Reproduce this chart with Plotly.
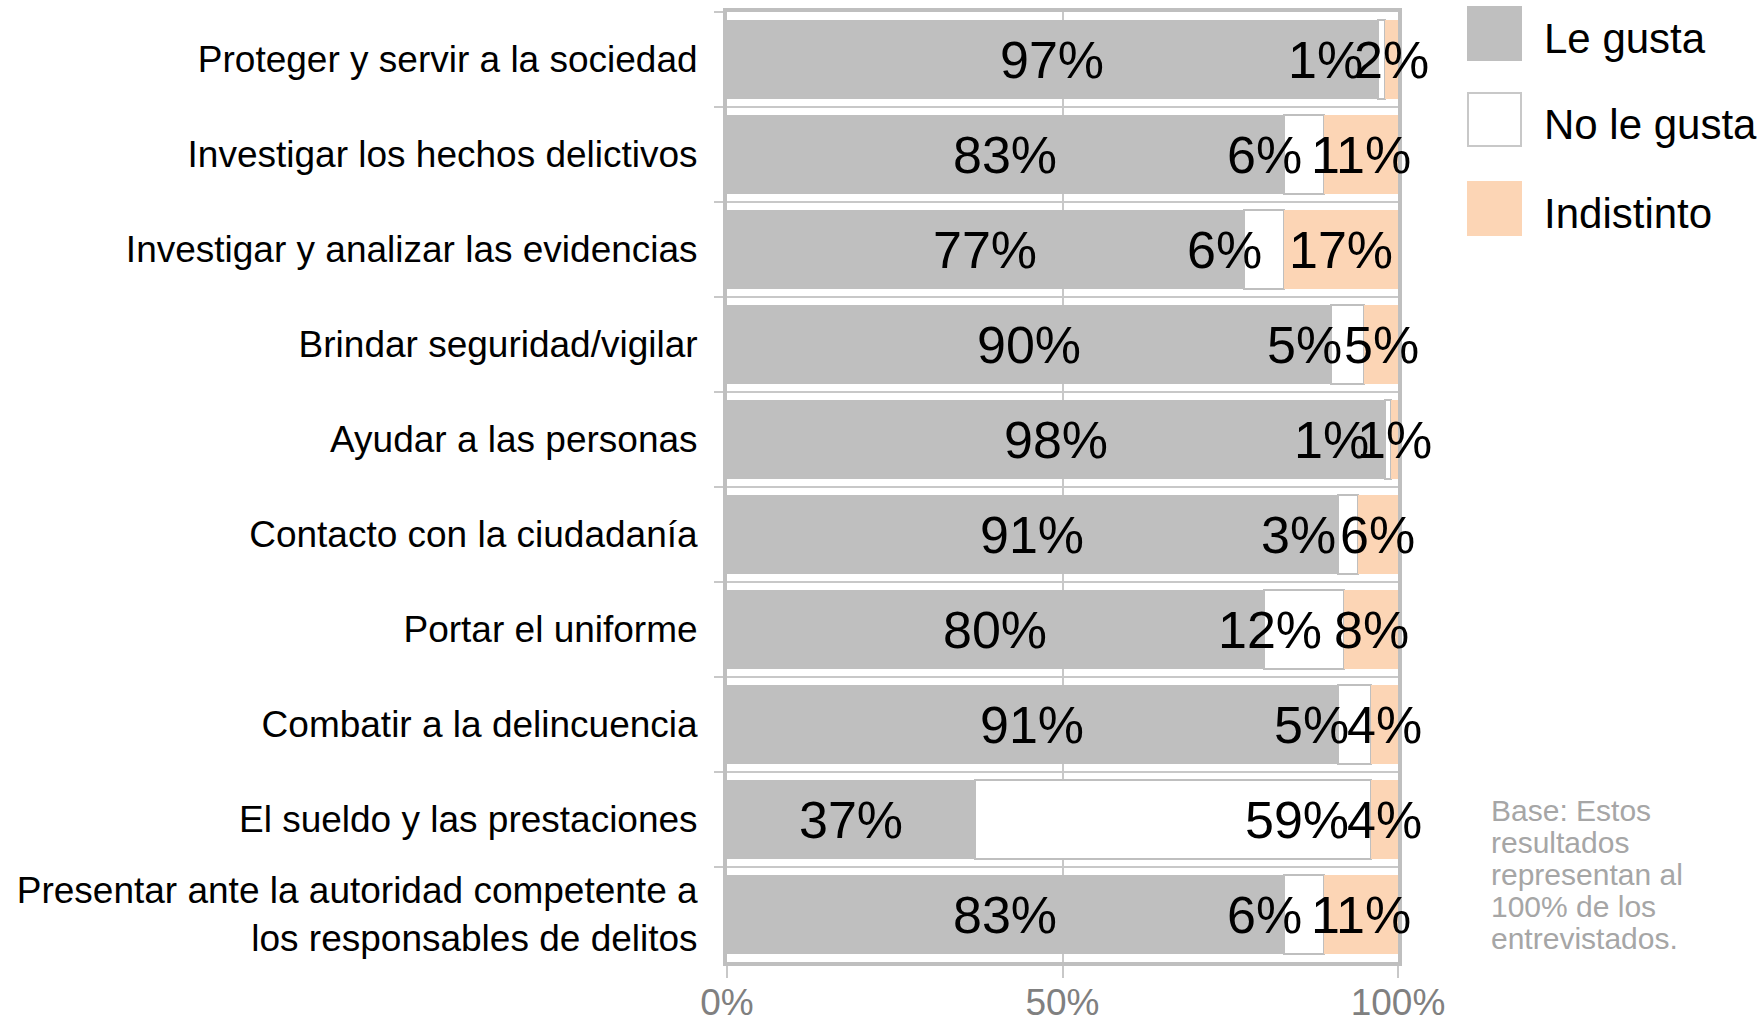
import plotly.graph_objects as go

# Survey: what respondents like about police work (share of responses, %)
categories = [
    "Proteger y servir a la sociedad",
    "Investigar los hechos delictivos",
    "Investigar y analizar las evidencias",
    "Brindar seguridad/vigilar",
    "Ayudar a las personas",
    "Contacto con la ciudadanía",
    "Portar el uniforme",
    "Combatir a la delincuencia",
    "El sueldo y las prestaciones",
    "Presentar ante la autoridad competente a<br>los responsables de delitos",
]
le_gusta = [97, 83, 77, 90, 98, 91, 80, 91, 37, 83]
no_le_gusta = [1, 6, 6, 5, 1, 3, 12, 5, 59, 6]
indistinto = [2, 11, 17, 5, 1, 6, 8, 4, 4, 11]

series_names = ["Le gusta", "No le gusta", "Indistinto"]
x_tick_vals = [0, 50, 100]
x_tick_text = ["0%", "50%", "100%"]
note_lines = ["Base: Estos", "resultados", "representan al", "100% de los", "entrevistados."]

GRAY = "#BFBFBF"
WHITE = "#FFFFFF"
PEACH = "#FCD5B5"
FONT = "Liberation Sans, Arial, sans-serif"

W, H = 1760, 1025
PLOT_L, PLOT_R, PLOT_T, PLOT_B = 727, 1398, 12, 962


def px_x(p):
    return (p - PLOT_L) / (PLOT_R - PLOT_L)


def px_y(p):
    return (PLOT_B - p) / (PLOT_B - PLOT_T)


fig = go.Figure()
fig.add_trace(go.Bar(y=categories, x=le_gusta, orientation="h", name=series_names[0],
                     marker=dict(color=GRAY, line=dict(width=0)), hoverinfo="x+y"))
fig.add_trace(go.Bar(y=categories, x=no_le_gusta, orientation="h", name=series_names[1],
                     marker=dict(color=WHITE, line=dict(width=2, color=GRAY)), hoverinfo="x+y"))
fig.add_trace(go.Bar(y=categories, x=indistinto, orientation="h", name=series_names[2],
                     marker=dict(color=PEACH, line=dict(width=0)), hoverinfo="x+y"))

annotations = []
label_font = dict(family=FONT, size=52, color="#000000")
for cat, g, w, p in zip(categories, le_gusta, no_le_gusta, indistinto):
    annotations.append(dict(x=g / 2, y=cat, xref="x", yref="y", text=f"{g}%",
                            showarrow=False, font=label_font, xanchor="center", yanchor="middle"))
    annotations.append(dict(x=g + w, y=cat, xref="x", yref="y", text=f"{w}%",
                            showarrow=False, font=label_font, xanchor="right", yanchor="middle",
                            xshift=-20))
    annotations.append(dict(x=g + w + p / 2, y=cat, xref="x", yref="y", text=f"{p}%",
                            showarrow=False, font=label_font, xanchor="center", yanchor="middle"))

# Legend drawn as large swatches with labels at the right of the plot
shapes = []
swatch_colors = [GRAY, WHITE, PEACH]
swatch_tops = [7, 93, 182]
SW = 53
for name, col, top in zip(series_names, swatch_colors, swatch_tops):
    shapes.append(dict(type="rect", xref="paper", yref="paper",
                       x0=px_x(1468), x1=px_x(1468 + SW), y0=px_y(top + SW), y1=px_y(top),
                       fillcolor=col,
                       line=dict(color="#C8C8C8" if col == WHITE else col, width=2)))
    annotations.append(dict(x=px_x(1542), y=px_y(top + SW / 2 + 5), xref="paper", yref="paper",
                            text=name, showarrow=False, xanchor="left", yanchor="middle",
                            font=dict(family=FONT, size=42, color="#000000")))

# Footnote about the base of the results
for i, line in enumerate(note_lines):
    annotations.append(dict(x=px_x(1489), y=px_y(810 + 32 * i), xref="paper", yref="paper",
                            text=line, showarrow=False, xanchor="left", yanchor="middle",
                            font=dict(family=FONT, size=30, color="#A6A6A6")))

fig.update_layout(
    barmode="stack",
    bargap=0.16,
    width=W, height=H,
    margin=dict(l=PLOT_L, r=W - PLOT_R, t=PLOT_T, b=H - PLOT_B, pad=0, autoexpand=False),
    paper_bgcolor="white",
    plot_bgcolor="white",
    showlegend=False,
    annotations=annotations,
    shapes=shapes,
    font=dict(family=FONT),
)
fig.update_xaxes(
    range=[0, 100],
    tickvals=x_tick_vals, ticktext=x_tick_text,
    tickfont=dict(family=FONT, size=37, color="#808080"),
    ticks="outside", ticklen=12, tickwidth=2, tickcolor="#C8C8C8",
    showgrid=True, gridcolor="#C8C8C8", gridwidth=2,
    showline=True, linecolor=GRAY, linewidth=4, mirror=True,
    zeroline=False, fixedrange=True, ticklabelstandoff=-7, automargin=False,
)
fig.update_yaxes(
    autorange="reversed",
    tickson="boundaries",
    tickfont=dict(family=FONT, size=37, color="#000000"),
    ticks="outside", ticklen=9, tickwidth=2, tickcolor="#C8C8C8",
    showgrid=True, gridcolor="#C8C8C8", gridwidth=2,
    showline=True, linecolor=GRAY, linewidth=4, mirror=True,
    zeroline=False, fixedrange=True, ticklabelstandoff=18, automargin=False,
)

fig.write_html("out.html")
